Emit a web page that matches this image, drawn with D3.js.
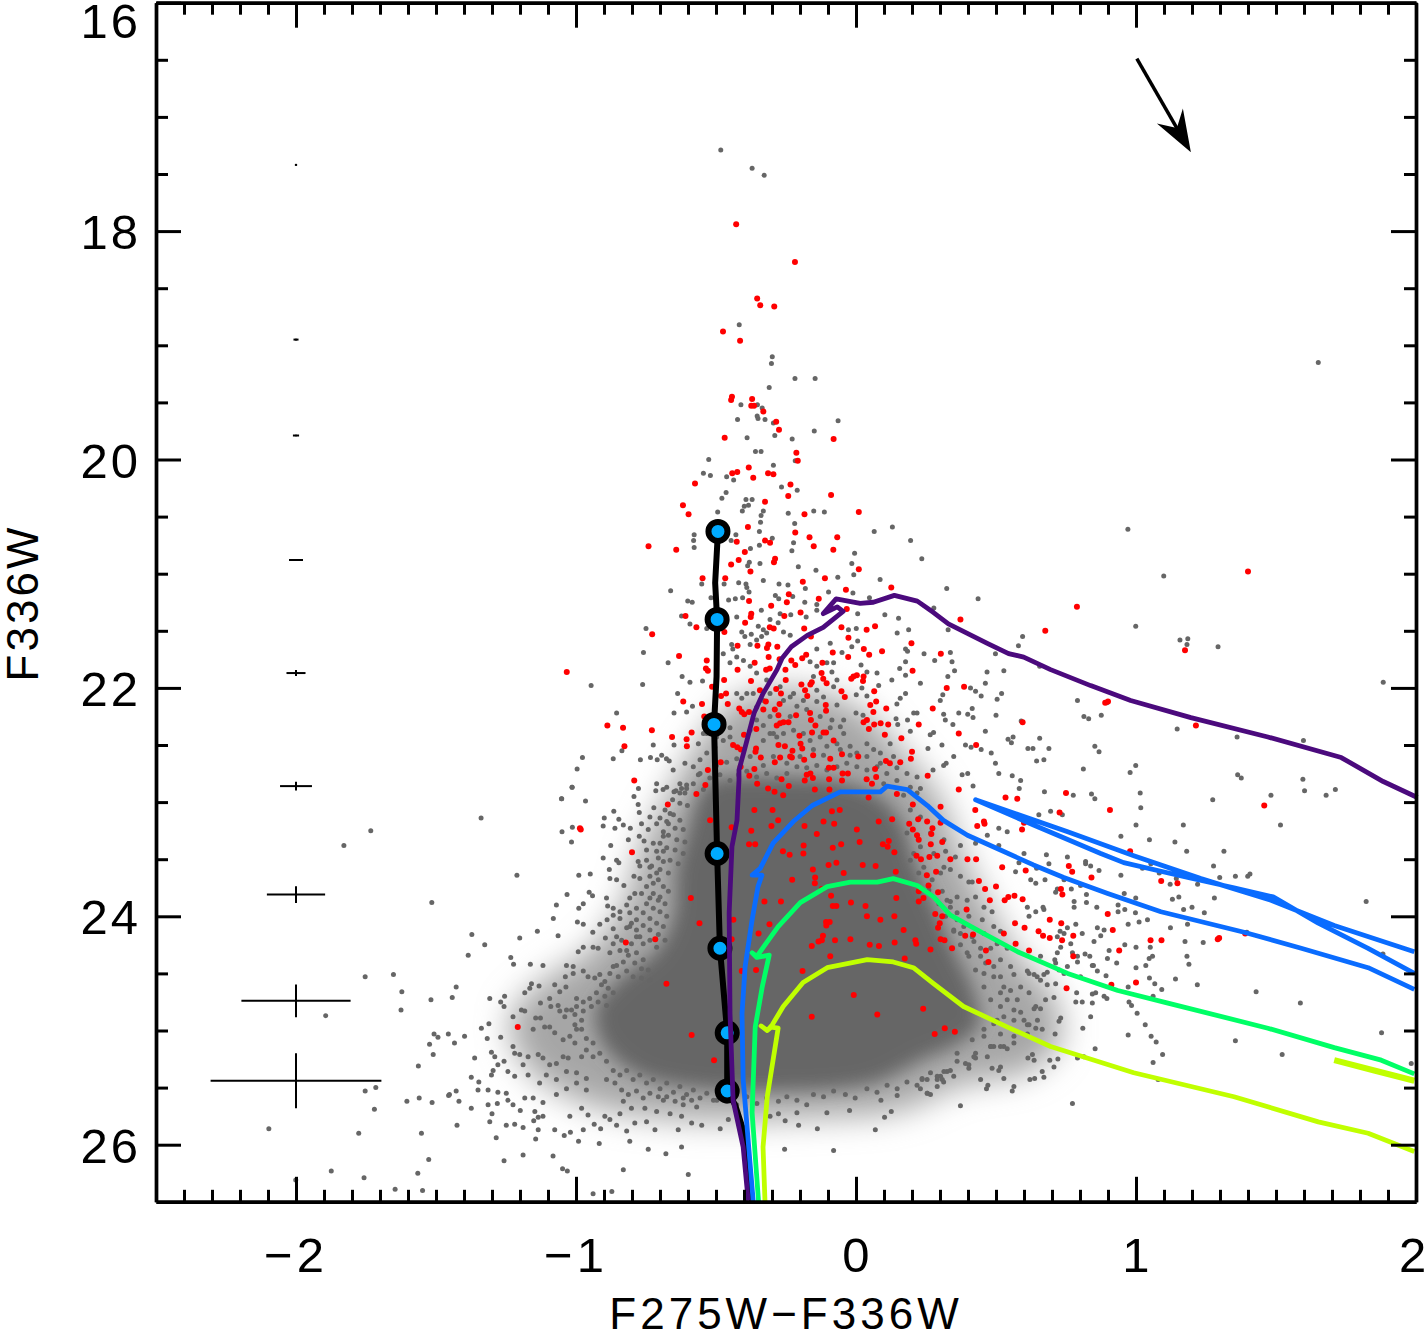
<!DOCTYPE html>
<html><head><meta charset="utf-8">
<script src="https://cdn.jsdelivr.net/npm/d3@7"></script>
<style>html,body{margin:0;padding:0;background:#fff;overflow:hidden}svg{display:block}text{font-family:"Liberation Sans",sans-serif;fill:#000}</style>
</head><body><svg id="c" width="1426" height="1335"></svg>
<script>
const xMajor=[-2,-1,0,1,2], yMajor=[16,18,20,22,24,26];
const xMinor=[-2.4,-2.3,-2.2,-2.1,-1.9,-1.8,-1.7,-1.6,-1.5,-1.4,-1.3,-1.2,-1.1,-0.9,-0.8,-0.7,-0.6,-0.5,-0.4,-0.3,-0.2,-0.1,0.1,0.2,0.3,0.4,0.5,0.6,0.7,0.8,0.9,1.1,1.2,1.3,1.4,1.5,1.6,1.7,1.8,1.9];
const yMinor=[16.5,17,17.5,18.5,19,19.5,20.5,21,21.5,22.5,23,23.5,24.5,25,25.5];
const xTitle="F275W\u2212F336W", yTitle="F336W";

// Dots in the cloud overlap too much to read one by one. These two outlines stand in for them:
// the saturated core, and a softer density halo around it. They are shapes, not star measurements.
const denseCoreOutline=[[-.52,22.82],[-.57,23],[-.6,23.25],[-.64,23.6],[-.65,23.99],[-.71,24.3],[-.84,24.55],[-.93,24.82],[-.9,25.13],[-.78,25.38],[-.57,25.5],[-.26,25.53],[.06,25.46],[.24,25.25],[.36,25.12],[.44,24.95],[.42,24.65],[.35,24.3],[.28,23.9],[.21,23.51],[.16,23.16],[.07,22.93],[-.056,22.82],[-.271,22.78]];
const densityHaloOutline=[[-.432,22.11],[-.557,22.46],[-.664,22.9],[-.772,23.42],[-.825,23.86],[-.951,24.3],[-1.112,24.56],[-1.237,24.91],[-1.165,25.35],[-.951,25.65],[-.629,25.78],[-.199,25.77],[.159,25.7],[.373,25.48],[.623,25.35],[.731,25.08],[.695,24.65],[.588,24.38],[.463,23.86],[.373,23.42],[.302,22.98],[.159,22.54],[.015,22.19],[-.199,22.01]];

const grayTop=[[-.483,17.29],[-.371,17.45],[-.328,17.51],[-.417,18.82],[-.299,19.1],[-.302,19.16],[-.218,19.29],[-.146,19.29],[1.651,19.15],[-.31,19.37],[-.335,19.55],[-.35,19.64],
[-.411,19.52],[-.352,19.52],[-.353,19.62],[-.325,19.65],[-.423,19.65],[-.295,19.68],[-.064,19.66],[-.149,19.75],[-.29,19.79],[-.389,19.81],[-.228,19.82],[-.359,19.93],[-.339,19.93],[-.526,20],[-.217,20.01],[-.295,20.05],[-.545,20.12],[-.52,20.14],[-.462,20.15],[-.437,20.18],[-.266,20.24],[-.21,20.27],[-.464,20.29],[-.479,20.34],[-.393,20.35],[-.371,20.35],[-.384,20.4],[-.399,20.41],[-.406,20.45],[-.331,20.45],[-.494,20.46],[-.242,20.47],[-.151,20.45],[-.113,20.46],[-.339,20.49],[-.341,20.55],[-.219,20.56],[-.345,20.63],[.13,20.59],[.065,20.63],[-.578,20.66],[-.58,20.71],[-.578,20.77],[-.429,20.66],[-.299,20.69],[-.446,20.71],[-.223,20.73],[-.345,20.75],[-.377,20.78],[-.229,20.8],[.195,20.71],[-.005,20.82],[.235,20.87],[-.015,20.91],[-.381,20.9],[-.387,20.93],[-.343,20.91],[-.206,20.94],[-.143,20.97],[-.008,21.01],[-.065,21.03],[-.331,21.06],[.086,21.05],[-.551,21.09],[-.419,21.08],[-.471,21.09],[-.393,21.09],[-.275,21.09],[-.243,21.1],[-.181,21.13],[-.39,21.12],[-.382,21.16],[-.662,21.15],[-.098,21.16],[-.011,21.17],[.324,21.13],[.436,21.22],[-.288,21.19],[-.276,21.22],[-.226,21.2],[-.455,21.23],[-.431,21.22],[-.405,21.21],[-.518,21.21],[-.601,21.24],[-.585,21.25],[-.183,21.25],[-.14,21.27],[-.14,21.32],[-.338,21.32],[-.271,21.35],[-.233,21.36],[-.178,21.38],[.006,21.35],[.103,21.36],[.152,21.39],[.048,21.21],[.278,21.3],[-.623,21.37],[-.426,21.38],[-.307,21.4],[-.462,21.41],[-.593,21.44],[-.533,21.48],[-.75,21.48],[-.349,21.46],[-.331,21.49],[-.319,21.52],[-.337,21.55],[-.355,21.58],[-.278,21.43],[-.259,21.51],[-.235,21.54],[-.408,21.51],[-.374,21.53],[-.397,21.55],[-.027,21.49],[.001,21.48],[.188,21.49],[.147,21.52],[.329,21.49],[.595,21.55],[.58,21.63],[.006,21.59],[-.015,21.64],[-.092,21.61],[-.14,21.66],[-.05,21.69],[-.444,21.62],[-.378,21.62],[-.44,21.66],[-.759,21.69],[-.671,21.78],[.177,21.66],[.184,21.68],[.177,21.77],[.243,21.7],[.281,21.76],[.337,21.69],[.343,21.77],[.498,21.7],[.656,21.81],[-.164,21.77],[-.14,21.81],[-.104,21.78],[-.08,21.78],[-.45,21.78],[-.426,21.73],[-.402,21.76],[-.378,21.81],[-.474,21.7],[.018,21.8],[.039,21.86],[.075,21.87],[.156,21.83],[.352,21.85],[.328,21.9],[.468,21.86],[.528,21.85],[.462,21.96],[.177,21.89],[.128,21.93],[.23,21.96],[-.621,21.9],[-.593,21.95],[-.762,21.97],[-.946,21.98],[-.548,21.94],[-.086,21.86],[-.068,21.93],[-.08,21.99],[-.152,21.9],[-.14,22.02],[-.116,22.08],[.081,21.98],[.021,22],[.001,22.06],[.039,22.07],[.177,22.05],[.158,22.09],[.146,22.14],[.409,22],[.427,22.03],[.447,22.07],[.52,22.05],[.504,22.1],[.31,22.06],[.301,22.11],[-.637,22.05],[-.65,22.22],[-.855,22.22],[-.584,22.16],[-.605,22.21],[-.426,22.05],[-.408,22.09],[-.39,22.05],[-.235,22.08],[-.188,22.11],[-.14,22.12],[-.068,22.15],[0,22.22],[.025,22.24],[.143,22.27],[.218,22.22],[.206,22.22],[.313,22.23],[.319,22.28],[.346,22.32],[.367,22.22],[.399,22.23],[.415,22.18],[.418,22.26],[.5,22.24],[.184,22.28],[.149,22.32],[.59,22.29],[.265,22.41],[.277,22.39],[.194,22.38],[.307,22.5],[.462,22.38],[.543,22.45],[.561,22.43],[.555,22.48],[.656,22.44],[.391,22.5],[.411,22.52],[.447,22.54],[.483,22.57],[.498,22.66],[.614,22.53],[.632,22.53],[.257,22.53],[.349,22.6],[.322,22.66],[.313,22.68],[.51,22.75],[.558,22.77],[.588,22.81],[.583,22.88],[.645,22.64],[.671,22.63],[.689,22.53],[.673,22.91],[.275,22.72],[.23,22.88],[.379,22.76],[.399,22.75],[.418,22.86],[-.724,22.5],[-.65,22.5],[-.836,22.55],[-.977,22.61],[-.867,22.62],[-.77,22.63],[-.734,22.61],[-.996,22.71],[-1.014,22.87],[-1.051,22.97],[-.694,22.59],[-.677,22.62],[-.71,22.63],[-.667,22.64],[-.653,22.72],[-.712,22.84],[-.715,22.9],[-.689,22.89],[-.777,22.88],[-.793,22.95],[-.643,22.9],[-.623,22.88],[-.605,22.85],[-.611,22.66],[-.581,22.69],[-.557,22.63],[-.563,22.76],[-.545,22.4],[-.563,22.49],[-.504,22.52],[-.533,22.57],[-.498,22.65],
[-.474,22.28],[-.45,22.35],[-.498,22.43],[-.533,22.4],[-.474,22.46],[-.45,22.43],[-.307,22.4],[-.283,22.43],[-.331,22.46],[-.259,22.4],[-.223,22.37],[-.188,22.4],[-.164,22.46],[-.128,22.43],[-.092,22.35],[-.056,22.34],[-.044,22.4],[-.068,22.49],[-.104,22.51],[-.021,22.51],[.003,22.57],[.039,22.49],[.063,22.54],[.087,22.57],[.122,22.49],[-.319,21.93],[-.271,21.99],[-.223,22.05],[-.355,21.87],[-.307,22.05],[-.367,22.05],[-.331,22.11],[-.259,22.11],[-.211,22.16],[-.176,22.19],[-.128,22.25],[-.086,22.28],[-.044,22.28],[-.235,22.25],[-.307,22.25],[-.355,22.28],[-.378,22.37],[-.331,22.33],[-.295,22.4],[-.355,22.17]];

const grayRight=[[.971,20.61],[1.099,21.02],[.999,21.46],[1.157,21.58],[1.185,21.57],[1.182,21.62],[1.293,21.64],[1.883,21.95],[.896,22.13],[.791,22.11],[.814,22.25],[.831,22.27],[.876,22.24],[.853,22.51],[.868,22.56],[.812,22.71],[.999,22.68],[.979,22.74],[1.015,22.92],[.841,22.93],[.853,22.97],[.776,22.94],[1.147,22.36],[1.361,22.43],[1.598,22.46],[1.363,22.76],[1.376,22.79],[1.596,22.8],[1.602,22.9],[1.679,22.94],[1.712,22.89],[1.482,22.94],[1.274,22.98],[1.017,23.05],[1,23.2],[1.169,23.2],[1.516,23.2],[.946,23.3],[1.048,23.33],[1.139,23.35],[1.181,23.43],[1.314,23.43],[1.277,23.56],[1.299,23.66],[1.355,23.65],[1.399,23.65],[1.407,23.63],[1.22,23.72],[1.144,23.67],[1.122,23.72],[1.053,23.54],[1.023,23.58],[1.083,23.62],[.946,23.64],[1.28,23.84],[1.13,23.85],[1.153,23.83],[.999,23.84],[.958,23.8],[1.2,23.92],[1.17,23.94],[1.244,23.97],[1.822,23.87],[1.123,24.1],[1.184,24.07],[.998,23.97],[1.041,24.03],[1.011,24.05],[.972,24.07],[.936,23.9],[.96,23.94],[.936,23.96],[.862,24.1],[.886,24.12],[.874,24.17],[.85,24.22],[1.175,24.22],[1.24,24.23],[1.396,24.14],[1,24.27],[.96,24.25],[.904,24.3],[.898,24.37],[1.051,24.27],[1.182,24.35],[1.189,24.42],[1.047,24.37],[1.059,24.35],[1.035,24.43],[1,24.45],[.931,24.41],[.844,24.43],[1.048,24.54],[1.067,24.59],[1.092,24.64],[1.141,24.55],[1.219,24.6],[.972,24.62],[1.061,24.7],[1.882,24.33],[1.429,24.66],[1.587,24.76],[.975,24.75],[.984,24.78],[1.004,24.85],[1.033,24.95],[.972,25.04],[1.054,25.05],[1.072,25.1],[1.095,25.21],[1.061,25.28],[1.355,25.09],[1.522,25.21],[1.877,25.02],[1.983,25.29],[.81,24.98],[.854,25.16],[.814,25.23],[.791,25.24],[1.079,25.43],[.773,25.64],[.373,25.66],[.255,25.55],[.838,24.88],[.844,24.76],[.785,24.75],[.808,24.75],[.856,24.67],[.844,24.68],[.788,24.67],[.893,24.52],[.862,24.48],[.886,24.7],[.896,24.72],
[.695,23.08],[.737,23.11],[.653,23.11],[.54,23.26],[.51,23.23],[.469,23.29],[.427,23.36],[.51,23.38],[.6,23.45],[.68,23.46],[.755,23.48],[.82,23.52],[.838,23.56],[.868,23.6],[.82,23.54],[.689,23.54],[.645,23.58],[.582,23.53],[.57,23.61],[.624,23.68],[.642,23.71],[.675,23.68],[.743,23.68],[.802,23.73],[.769,23.76],[.823,23.81],[.779,23.87],[.823,23.88],[.86,23.92],[.779,23.92],[.671,23.94],[.642,23.96],[.612,23.92],[.618,24],[.719,23.76],[.713,23.79],[.668,23.92],[.785,24.07],[.808,24.15],[.755,24.1],[.729,24.13],[.719,24.18],[.731,24.27],[.719,24.32],[.743,24.15],[.767,24.24],[.773,24.32],[.791,24.35],[.818,24.33],[.835,24.35],[.848,24.43],[.791,24.4],[.71,24.38],[.713,24.41],[.659,24.35],[.683,24.49],[.755,24.44],[.802,24.53],[.743,24.5],[.725,24.47],[.671,24.51],[.713,24.59],[.683,24.6],[.647,24.53],[.618,24.5],[.707,24.71],[.677,24.73],[.642,24.79],[.659,24.81],[.731,24.89],[.725,24.92],[.642,24.98],[.665,24.99],[.711,25.03],[.618,24.95],[.63,25.21],[.692,25.26],[.721,25.25],[.636,25.26],[.614,25.24],[.707,25.32],[.665,25.36],[.621,25.43],[.638,25.42],[.671,25.41],[.466,25.51],[.471,25.48],[.564,25.49],[.558,25.53],[.528,25.42],[.51,25.35],[.486,25.33],[.445,25.43],[.403,25.33],[.427,25.24],[.516,25.32],[.481,25.14],[.54,25.16],[.564,25.11],[.492,25.14],
[.373,23.38],[.355,23.48],[.314,23.57],[.337,23.59],[.373,23.65],[.403,23.7],[.32,23.43],[.302,23.62],[.415,23.7],[.427,23.83],[.361,23.83],[.337,23.92],[.397,23.86],[.457,23.92],[.486,23.96],[.451,24.03],[.403,24],[.361,24.03],[.325,23.86],[.492,24.09],[.516,24.13],[.457,24.15],[.421,24.22],[.504,24.24],[.54,24.28],[.481,24.28],[.373,24.15],[.349,24.12],[.445,24.35],[.397,24.32],[.516,24.38],[.552,24.44],[.492,24.44],[.457,24.5],[.516,24.53],[.564,24.51],[.612,24.48],[.636,24.51],[.659,24.56],[.588,24.62],[.552,24.65],[.618,24.67],[.576,24.73],[.516,24.67],[.516,24.79],[.588,24.84],[.528,24.88],[.636,24.81],[.648,24.91],[.564,24.91],[.492,24.94],[.612,24.95],[.516,25.03],[.457,25.05],[.481,25.14],[.421,25.23],[.361,25.2],[.391,25.29],[.337,25.35],[.308,25.43],[.236,25.43],[.29,25.4],[.427,25.2],[.528,25.14],[.194,23.07],[.23,23.13],[.266,23.27],[.314,23.33],[.23,23.39],[.278,23.45],[.182,23.27]];

const grayLeft=[[-1.014,22.87],[-1.052,22.97],[-.966,22.99],[-1.339,23.14],[-.865,23.08],[-.899,23.14],[-.903,23.21],[-.847,23.15],[-.831,23.2],[-.806,23.23],[-.861,23.23],[-1.05,23.26],[-1.013,23.22],[-1.016,23.35],[-.876,23.38],[-.813,23.33],[-.774,23.3],[-.757,23.34],[-.778,23.02],[-.774,23.09],[-.736,23.13],[-.722,23.05],[-.766,23.19],[-.742,23.24],[-.712,23.19],[-.688,23.26],[-.67,23.19],[-.664,23.1],[-.688,23.3],[-.724,23.36],[-.748,23.42],[-.712,23.43],[-.688,23.43],[-.778,23.52],[-.855,23.51],[-.847,23.53],[-.903,23.49],[-.881,23.59],[-.879,23.67],[-.855,23.68],[-.829,23.73],[-.793,23.65],[-.772,23.56],[-.748,23.51],[-.73,23.56],[-.712,23.62],[-.772,23.67],[-.748,23.74],[-.724,23.71],[-.766,23.8],[-.736,23.84],[-.7,23.83],[-.79,23.8],[-.808,23.84],[-.891,23.84],[-.819,23.9],[-1.211,23.64],[-.99,23.64],[-.949,23.63],[-.953,23.79],[-.941,23.82],[-1.032,23.81],[-1.07,23.9],[-.99,23.93],[-.974,23.89],[-.887,23.91],[-.867,23.93],[-.843,23.96],[-.867,23.99],[-.843,24.02],[-1.081,24.02],[-.995,24.05],[-.974,24.07],[-.915,24.07],[-.889,24.03],[-.867,24.11],[-1.138,24.13],[-1.064,24.17],[-.94,24.14],[-.895,24.19],[-.867,24.24],[-.843,24.3],[-.879,24.32],[-1.372,24.16],[-1.326,24.25],[-1.201,24.19],[-1.385,24.34],[-1.233,24.36],[-1.223,24.42],[-1.163,24.42],[-1.118,24.43],[-.992,24.31],[-.974,24.27],[-.939,24.27],[-.921,24.28],[-1.034,24.43],[-1.01,24.44],[-1.01,24.5],[-1.038,24.53],[-.974,24.48],[-.957,24.53],[-.933,24.54],[-.915,24.51],[-.897,24.57],[-.867,24.44],[-.808,24.09],[-.784,24.12],[-.772,24.18],[-.802,24.24],[-.819,24.3],[-.784,24.32],[-.76,24.38],[-1.428,24.62],[-1.442,24.71],[-1.308,24.72],[-1.269,24.75],[-1.255,24.7],[-1.257,24.79],[-1.159,24.59],[-1.132,24.61],[-1.165,24.63],[-1.183,24.67],[-1.076,24.6],[-1.036,24.62],[-1.058,24.66],[-1.094,24.72],[-1.127,24.76],[-1.064,24.78],[-.998,24.72],[-1.016,24.82],[-1.034,24.82],[-1.058,24.83],[-1.09,24.79],[-1.195,24.82],[-1.183,24.83],[-1.144,24.89],[-1.127,24.89],[-1.04,24.88],[-1.225,24.88],[-1.311,24.94],[-1.338,24.98],[-1.398,25.05],[-1.434,25.11],[-1.269,25.06],[-1.317,25.07],[-1.153,24.99],[-1.112,24.97],[-1.094,24.97],[-1.076,25.02],[-1.022,25.05],[-1.046,25.08],[-.998,24.99],[-1.004,25.11],[-1.225,25.14],[-1.302,25.19],[-1.29,25.23],[-1.362,25.24],[-1.279,25.3],[-1.257,25.27],[-1.296,25.35],[-1.302,25.39],[-1.374,25.41],[-1.347,25.45],[-1.219,25.2],[-1.201,25.21],[-1.171,25.23],[-1.135,25.21],[-1.118,25.24],[-1.046,25.23],[-1.094,25.3],[-1.07,25.29],[-1.028,25.24],[-.98,25.23],[-1.243,25.36],[-1.219,25.4],[-1.189,25.3],[-1.171,25.39],[-1.13,25.46],[-1.106,25.39],[-1.07,25.43],[-1.034,25.36],[-.998,25.37],[-.963,25.42],[-.998,25.46],[-1.034,25.51],[-.963,25.52],[-1.07,25.56],[-1.118,25.63],[-1.153,25.59],[-1.183,25.59],[-1.249,25.55],[-1.279,25.54],[-1.314,25.52],[-1.35,25.52],[-1.428,25.53],[-1.418,25.62],[-1.452,25.56],[-1.314,25.65],[-1.281,25.64],[-1.243,25.61],[-1.225,25.65],[-1.199,25.7],[-1.374,25.68],[-1.3,25.73],[-1.308,25.8],[-1.249,25.83],[-1.219,25.82],[-1.189,25.85],[-1.147,25.71],[-1.135,25.76],[-1.118,25.75],[-1.151,25.79],[-1.425,25.83],[-1.285,25.94],[-1.144,25.95],[-1.135,25.87],[-1.076,25.87],[-1.042,25.92],[-1.02,25.89],[-.991,25.97],[-.974,25.87],[-.935,25.82],[-.912,25.86],[-.98,25.68],[-1.022,25.75],[-.957,25.74],[-.897,25.75],[-.879,25.78],[-.855,25.83],[-.819,25.88],[-.917,25.99],[-.808,25.97],[-.742,26.04],[-.679,26.08],[-.623,26.02],[-1.189,26.09],[-1.257,26.14],[-1.082,26.1],[-1.048,26.21],[-1.031,26.23],[-.831,26.22],[-.599,26.26],[-.939,26.43],[-.872,26.41],[-.255,26.04],[-.08,26.05],[-.138,25.86],[-.205,25.83],[.069,25.87],[.102,25.76],[.126,25.71],[.089,25.61],[-.023,25.7],[-.104,25.72],[-.211,25.72],[-.277,25.73],[-.253,25.79],[-.307,25.75],[-.635,25.87],[-.718,25.87],[-.485,25.86],[-.456,25.78],[-.551,25.83],[-.587,25.81],[-.623,25.75],[-.664,25.73],[-.712,25.71],[-.748,25.8],[-.79,25.81],[-.831,25.62],[-.802,25.68],[-.843,25.73],[-.754,25.68],[-.688,25.61],[-.617,25.65],[-.569,25.67],[-.497,25.61],[.254,25.55],[.147,25.57],[.302,25.4],[.313,25.45],[.236,25.42],
[-1.733,23.25],[-1.829,23.38],[-1.515,23.88],[-1.753,24.53],[-1.652,24.51],[-1.622,24.66],[-1.518,24.73],[-1.625,24.82],[-1.894,24.87],[-1.507,25.03],[-1.493,25.06],[-1.523,25.12],[-1.51,25.21],[-1.456,25.03],[-1.563,25.31],[-1.753,25.53],[-1.715,25.5],[-1.604,25.62],[-1.56,25.59],[-1.514,25.63],[-1.455,25.57],[-1.72,25.69],[-2.097,25.86],[-1.776,25.9],[-1.552,25.9],[-1.526,26.13],[-1.565,26.25],[-1.874,26.23],[-1.757,26.29],[-2.001,26.31],[-1.646,26.39],[-1.548,26.4]];

const grayEdge=[[-.676,22.87],[-.65,22.91],[-.629,22.84],[-.611,22.92],[-.655,22.98],[-.629,23.01],[-.602,23.03],[-.682,23.07],[-.652,23.11],[-.629,23.16],[-.676,23.17],[-.7,23.14],[-.646,23.23],[-.617,23.24],[-.67,23.29],[-.64,23.33],[-.611,23.35],[-.7,23.36],[-.676,23.4],[-.646,23.42],[-.617,23.45],[-.706,23.49],[-.688,23.52],[-.664,23.51],[-.635,23.54],[-.736,23.57],[-.7,23.59],[-.67,23.62],[-.736,23.65],[-.706,23.68],[-.688,23.74],[-.67,23.78],[-.724,23.8],[-.706,23.86],[-.682,23.89],[-.748,23.89],[-.724,23.93],[-.7,23.96],[-.676,24],[-.784,23.93],[-.76,23.97],[-.736,24.02],[-.712,24.06],[-.688,24.09],[-.808,23.97],[-.784,24.03],[-.76,24.08],[-.736,24.12],[-.706,24.16],[-.682,24.21],[-.802,24.06],[-.819,24.1],[-.784,24.18],[-.76,24.24],[-.736,24.21],[-.712,24.27],[-.855,24.18],[-.837,24.21],[-.813,24.34],[-.79,24.41],[-.766,24.46],[-.742,24.47],[-.831,24.4],[-.855,24.43],[-.879,24.5],[-.849,24.53],[-.819,24.48],[-.796,24.53],[-.766,24.54],[-.736,24.56],[-.909,24.6],[-.885,24.63],[-.927,24.67],[-.897,24.7],[-.867,24.67],[-.951,24.72],[-.921,24.75],[-.891,24.78],[-.974,24.75],[-.945,24.79],[-.998,24.79],[-.974,24.83],[-1.004,24.86],[-.98,24.91],[-1.004,24.95],[-.98,24.99],[-.963,25.07],[-.939,25.11],[-.963,25.17],[-.939,25.23],[-.915,25.2],[-.891,25.27],[-.867,25.35],[-.843,25.39],[-.819,25.35],[-.796,25.43],[-.772,25.39],[-.748,25.46],[-.724,25.43],[-.7,25.51],[-.676,25.46],[-.652,25.54],[-.629,25.49],[-.605,25.56],[-.581,25.52],[-.557,25.59],[-.533,25.55],[-.509,25.61],[-.891,25.43],[-.861,25.46],[-.837,25.52],[-.813,25.56],[-.784,25.53],[-.76,25.59],[-.736,25.55],[-.706,25.58],[-.676,25.58],[-.646,25.62],[-.617,25.59],[-.587,25.61],[-.462,25.62],[-.426,25.65],[-.39,25.58],[-.354,25.64],[-.319,25.59],[-.277,25.62],[-.247,25.58],[-.211,25.61],[-.176,25.65],[-.152,25.56],[-.116,25.58],[-.08,25.53],[-.038,25.56],[-.003,25.59],[.039,25.51],[.075,25.54],[.111,25.48],[.147,25.51],[.182,25.45],[.218,25.48],[.266,25.37],[.29,25.43],[.325,25.36],
[.206,23.45],[.242,23.57],[.272,23.68],[.308,23.78],[.337,23.87],[.361,23.97],[.385,24.09],[.415,24.18],[.445,24.28],[.463,24.41],[.492,24.53],[.528,24.62],[.54,24.73],[.564,24.82],[.6,24.91],[.612,25.03],[.564,25.05],[.516,25.14],[.469,25.23],[.403,25.3],[.349,25.4],[.29,25.49],[.23,25.51],[.266,25.56],[.194,23.51],[.224,23.62],[.26,23.77],[.296,23.89],[.32,24],[.349,24.13],[.373,24.25],[.403,24.35],[.427,24.47],[.457,24.62],[.481,24.73],[.504,24.91],[.457,24.99],[.415,25.08],[.361,25.27],[.314,25.36],[.254,25.43],
[-.557,22.75],[-.522,22.79],[-.486,22.76],[-.45,22.81],[-.42,22.76],[-.39,22.73],[-.355,22.78],[-.319,22.75],[-.283,22.79],[-.247,22.75],[-.211,22.69],[-.176,22.7],[-.14,22.68],[-.104,22.72],[-.068,22.69],[-.033,22.66],[.003,22.69],[.039,22.72],[.075,22.69],[.11,22.75],[.146,22.7],[.182,22.75],[.218,22.78],[-.581,22.84],[-.605,22.88],[-.629,22.92],[-.545,22.89],[-.498,22.68],[-.462,22.65],[-.426,22.62],[-.378,22.6],[-.331,22.68],[-.295,22.6],[-.247,22.66],[-.2,22.6],[-.152,22.54],[-.116,22.59],[-.056,22.54],[-.021,22.59],[.039,22.6],[.087,22.66],[.134,22.6],[.099,22.84],[.146,22.81],[.194,22.87],[.17,22.94],[.218,22.92]];

const redStars=[[-.428,17.94],[-.218,18.27],[-.353,18.59],[-.342,18.65],[-.292,18.66],[-.475,18.88],[-.414,18.96],[-.443,19.45],[-.371,19.47],[-.364,19.53],[1.4,20.98],[.789,21.29],[1.175,21.67],[1.458,23.03],[.89,22.13],[.9,22.12],[1.214,22.33],[-.986,23.23],[1.297,24.19],
[-.446,19.48],[-.374,19.53],[-.331,19.58],[-.285,19.67],[-.275,19.74],[-.469,19.81],[-.08,19.82],[-.213,19.94],[-.208,20.01],[-.383,20.07],[-.424,20.11],[-.442,20.12],[-.314,20.12],[-.295,20.13],[-.367,20.16],[-.575,20.21],[-.234,20.22],[-.089,20.31],[-.242,20.32],[-.325,20.37],[-.618,20.4],[-.598,20.48],[-.184,20.48],[.01,20.46],[-.386,20.59],[-.217,20.64],[-.166,20.68],[-.067,20.68],[-.325,20.71],[-.307,20.73],[-.426,20.72],[-.151,20.76],[-.741,20.76],[-.642,20.79],[-.081,20.79],[-.397,20.81],[-.419,20.88],[-.289,20.87],[-.293,20.9],[-.446,20.92],[-.377,20.98],[.01,20.96],[-.548,21.04],[-.467,21.04],[-.111,21.04],[-.19,21.07],[-.036,21.14],[.126,21.12],[-.24,21.18],[-.133,21.22],[-.382,21.24],[-.247,21.25],[-.303,21.28],[-.033,21.31],[-.374,21.35],[-.198,21.34],[-.376,21.38],[-.609,21.37],[-.256,21.37],[.373,21.4],[-.396,21.43],[-.57,21.47],[-.47,21.51],[-.308,21.47],[-.294,21.48],[-.185,21.48],[-.052,21.47],[.038,21.49],[.068,21.46],[.676,21.5],[-.728,21.53],[-.161,21.55],[-.027,21.56],[.198,21.61],[-.313,21.62],[-.423,21.63],[-.352,21.63],[-.281,21.64],[-.318,21.65],[.028,21.66],[-.083,21.69],[.093,21.68],[.047,21.71],[-.028,21.73],[.303,21.7],[-.632,21.72],[-.178,21.71],[-.312,21.73],[-.231,21.76],[-.273,21.75],[-.192,21.74],[-.533,21.76],[-.362,21.78],[-.217,21.8],[-.12,21.78],[-.536,21.83],[-.529,21.85],[-.423,21.84],[-.321,21.84],[-.308,21.83],[-.252,21.84],[.202,21.85],[-1.033,21.86],[-.123,21.87],[-.117,21.92],[-.105,21.96],[-.471,21.93],[-.375,21.94],[-.251,21.93],[.003,21.89],[.027,21.9],[-.009,21.9],[-.017,21.92],[.025,21.94],[-.158,21.95],[-.163,21.97],[-.195,21.97],[-.514,21.99],[.324,22],[.386,21.99],[-.343,22.02],[-.285,22.01],[-.182,22.02],[.065,22.03],[-.052,22.03],[-.268,22.05],[-.174,22.07],[-.04,22.08],[-.464,22.05],[-.482,22.07],[-.617,22.12],[-.55,22.14],[.072,22.12],[-.458,22.14],[-.322,22.12],[-.273,22.14],[.051,22.15],[-.108,22.15],[.108,22.18],[.274,22.18],[-.417,22.18],[-.408,22.21],[-.331,22.19],[-.29,22.19],[-.107,22.2],[.062,22.21],[-.164,22.22],[-.382,22.21],[-.399,22.23],[-.277,22.24],[-.214,22.24],[-.542,22.25],[-.161,22.28],[.039,22.28],[.027,22.3],[.088,22.31],[.115,22.32],[.065,22.32],[.224,22.32],[.595,22.3],[-.259,22.3],[-.241,22.3],[-.271,22.31],[-.283,22.33],[-.888,22.33],[-.832,22.35],[-.729,22.37],[-.145,22.33],[-.356,22.36],[.046,22.36],[-.157,22.39],[-.116,22.39],[-.107,22.39],[-.587,22.39],[-.4,22.41],[.103,22.41],[.367,22.4],[-.657,22.43],[-.605,22.45],[-.202,22.42],[.162,22.44],[-.08,22.46],[-.604,22.51],[-.827,22.51],[-.439,22.5],[-.424,22.52],[-.357,22.53],[-.277,22.5],[-.254,22.51],[-.198,22.49],[.429,22.5],[-.192,22.53],[-.411,22.54],[-.359,22.56],[-.227,22.55],[.2,22.56],[-.05,22.58],[-.153,22.59],[-.235,22.6],[-.34,22.61],[-.271,22.61],[.196,22.62],[.008,22.6],[-.229,22.61],[-.092,22.62],[-.29,22.65],[-.185,22.63],[.107,22.64],[.121,22.66],[.158,22.65],[-.483,22.65],[-.412,22.69],[-.097,22.7],[-.08,22.7],[-.363,22.71],[.068,22.71],[-.529,22.72],[-.381,22.77],[-.163,22.75],[-.176,22.76],[-.048,22.75],[-.029,22.75],[.256,22.77],[.072,22.78],[-.792,22.81],[-.266,22.8],[-.154,22.79],[-.183,22.81],[-.096,22.8],[-.05,22.81],[.038,22.8],[-.353,22.84],[-.24,22.86],[-.538,22.85],[.057,22.84],[-.314,22.88],[.367,22.89],[-.147,22.89],[-.095,22.89],[-.291,22.91],[-.57,22.93],[-.26,22.94],[.146,22.93],[.045,22.96],[.534,22.96],[.576,22.97],
[-.672,23.02],[-.983,23.24],[-.8,23.44],[-.521,23.16],[-.444,23.22],[-.363,23.07],[-.298,23.07],[-.278,23.16],[-.374,23.25],[-.302,23.21],[-.382,23.37],[-.36,23.37],[-.261,23.43],[-.237,23.46],[-.187,23.38],[-.188,23.45],[-.184,23.21],[-.14,23.28],[-.116,23.17],[-.086,23.08],[-.058,23.07],[-.078,23.19],[.003,23.24],[.013,23.35],[-.083,23.4],[-.053,23.37],[.081,23.17],[.129,23.15],[.203,23.02],[.222,23.15],[.19,23.19],[.254,23.17],[.302,23.04],[.302,23.18],[.203,23.24],[.218,23.29],[.224,23.33],[.273,23.23],[.269,23.28],[.267,23.37],[.308,23.35],[.117,23.34],[.096,23.37],[.113,23.39],[.137,23.44],[.216,23.47],[.232,23.5],[.262,23.48],[.29,23.47],[-.098,23.55],[-.07,23.53],[-.154,23.59],[-.146,23.66],[-.147,23.71],[-.228,23.68],[-.044,23.62],[.024,23.55],[.07,23.56],[.142,23.61],[.286,23.61],[.253,23.64],[.259,23.73],[.224,23.78],[.293,23.79],[.241,23.84],[.224,23.87],[.144,23.84],[-.59,23.84],[-.327,23.87],[-.268,23.87],[-.122,23.76],[-.089,23.82],[-.018,23.88],[-.083,23.91],[-.07,23.91],[.034,23.91],[.039,24],[.087,24.03],[.137,24],[.283,23.98],[.308,24],[.299,24.06],[.293,24.1],[.17,24.12],[-.559,24.06],[-.438,24.03],[-.309,24.07],[-.094,24.05],[-.107,24.05],[-.106,24.08],[-.348,24.15],[-.717,24.2],[-.822,24.23],[-.444,24.2],[-.118,24.17],[-.158,24.26],[-.134,24.22],[-.122,24.21],[-.075,24.21],[-.02,24.2],[.049,24.25],[.082,24.26],[.138,24.23],[.212,24.21],[.215,24.24],[.302,24.2],[.316,24.21],[.266,24.29],[-.092,24.35],[.174,24.37],[-.357,24.47],[-.408,24.48],[-.191,24.48],[-.677,24.59],[-.008,24.69],[.24,24.81],[-.158,24.88],[.076,24.86],[.317,24.98],[.281,25.03],[-1.208,24.97],[-.587,25.04],[-.507,25.26],
[.75,22.92],[.907,23.07],[.979,23.43],[.426,23.07],[.457,23.17],[.459,23.19],[.433,23.21],[.6,23.18],[.593,23.24],[.727,23.09],[.337,23.5],[.398,23.5],[.429,23.5],[.522,23.57],[.606,23.6],[.76,23.56],[.772,23.61],[.841,23.66],[1.09,23.69],[1.148,23.71],[.439,23.69],[.461,23.76],[.5,23.74],[.732,23.76],[.737,23.81],[.566,23.82],[.544,23.83],[.531,23.86],[.595,23.85],[.478,23.86],[.395,23.94],[.899,23.98],[.568,24.06],[.602,24.1],[.692,24.03],[.733,24.06],[.652,24.13],[.668,24.17],[.692,24.19],[.736,24.21],[.776,24.17],[.528,24.15],[.917,24.12],[1.052,24.21],[1.091,24.21],[1.292,24.2],[1.39,24.15],[.418,24.16],[.39,24.17],[.57,24.24],[.618,24.3],[.464,24.3],[.343,24.28],[.94,24.3],[.776,24.35],[.473,24.4],[.912,24.6],[1,24.58],[.752,24.63],[.353,25.01]];

const ridgeLine=[[-.493,20.63],[-.503,21.08],[-.496,21.4],[-.498,21.9],[-.507,22.32],[-.496,23.45],[-.486,24.28],[-.46,25.02],[-.46,25.53],[-.432,25.65],[-.403,25.87],[-.371,26.49]];
const ridgePoints=[[-.493,20.63],[-.496,21.4],[-.507,22.32],[-.496,23.45],[-.486,24.28],[-.46,25.02],[-.46,25.53]];
const trackPurple=[[-.385,26.49],[-.403,26.02],[-.439,25.61],[-.45,24.85],[-.453,23.97],[-.443,23.39],[-.425,23.16],[-.418,22.81],[-.418,22.72],[-.396,22.52],[-.364,22.22],[-.332,22.05],[-.282,21.84],[-.264,21.74],[-.231,21.64],[-.174,21.54],[-.117,21.47],[-.046,21.33],[-.067,21.29],[-.117,21.35],[-.071,21.22],[.015,21.26],[.062,21.25],[.137,21.19],[.219,21.24],[.277,21.34],[.33,21.44],[.469,21.61],[.545,21.7],[.599,21.73],[.695,21.84],[.838,21.98],[.981,22.11],[1.196,22.26],[1.471,22.43],[1.733,22.61],[1.883,22.82],[2.005,22.96]];
const trackBlue=[[-.367,26.5],[-.403,25.43],[-.407,24.85],[-.396,24.44],[-.371,24.03],[-.35,23.74],[-.336,23.64],[-.371,23.64],[-.342,23.58],[-.296,23.36],[-.224,23.17],[-.156,23.03],[-.056,22.91],[.087,22.91],[.111,22.86],[.183,22.89],[.255,23.03],[.312,23.16],[.398,23.29],[.516,23.42],[.634,23.55],[.742,23.66],[.899,23.8],[1.089,23.96],[1.386,24.14],[1.59,24.28],[1.829,24.45],[1.994,24.64]];
const trackBlueLoop=[[1.994,24.31],[1.708,24.08],[1.482,23.86],[1.232,23.67],[.992,23.47],[.756,23.26],[.427,22.98],[.634,23.2],[.874,23.45],[.956,23.53],[1.185,23.66],[1.35,23.75],[1.49,23.83],[1.651,24.06],[1.829,24.28],[1.994,24.5]];
const trackGreen=[[-.348,26.5],[-.371,25.72],[-.36,24.97],[-.335,24.62],[-.31,24.34],[-.354,24.36],[-.371,24.32],[-.354,24.35],[-.325,24.25],[-.278,24.09],[-.199,23.88],[-.103,23.74],[-.02,23.7],[.076,23.7],[.133,23.67],[.219,23.73],[.277,23.83],[.337,23.99],[.455,24.15],[.577,24.31],[.756,24.5],[.935,24.65],[1.114,24.76],[1.471,24.98],[1.708,25.15],[1.876,25.26],[1.994,25.38]];
const trackLime=[[-.325,26.5],[-.332,26.02],[-.317,25.58],[-.278,24.98],[-.303,24.97],[-.317,25],[-.339,24.96],[-.317,25],[-.299,24.95],[-.26,24.79],[-.189,24.58],[-.103,24.45],[.04,24.38],[.133,24.4],[.205,24.45],[.277,24.59],[.384,24.79],[.541,24.97],[.695,25.14],[.992,25.37],[1.35,25.58],[1.651,25.8],[1.829,25.9],[1.994,26.06]];
const trackLimeEnd=[[1.708,25.26],[1.851,25.35],[1.994,25.44]];
const errY=[17.42,18.95,19.79,20.88,21.87,22.86,23.81,24.74,25.44];
const errX=[.004,.009,.011,.025,.034,.057,.104,.195,.305];
const errV=[.005,.007,.007,.009,.026,.039,.074,.143,.241];
const errAt=-2;
const reddening=[[1.003,16.49],[1.196,17.31]];

const svg=d3.select("#c");
const x=d3.scaleLinear().domain([-2.5,2]).range([156,1416]);
const y=d3.scaleLinear().domain([16,26.5]).range([2.7,1201.8]);
const line=d3.line().x(d=>x(d[0])).y(d=>y(d[1]));
const closed=d3.line().curve(d3.curveCatmullRomClosed.alpha(.5)).x(d=>x(d[0])).y(d=>y(d[1]));
const GRAY="#666";
const defs=svg.append("defs");
defs.append("filter").attr("id","softHalo").attr("x","-20%").attr("y","-20%").attr("width","140%").attr("height","140%").append("feGaussianBlur").attr("stdDeviation",16);
defs.append("filter").attr("id","softCore").attr("x","-10%").attr("y","-10%").attr("width","120%").attr("height","120%").append("feGaussianBlur").attr("stdDeviation",9);

svg.append("path").attr("d",closed(densityHaloOutline)).attr("fill","#a6a6a6").attr("filter","url(#softHalo)");
svg.append("path").attr("d",closed(denseCoreOutline)).attr("fill",GRAY).attr("filter","url(#softCore)");
svg.append("g").selectAll("circle").data([...grayTop,...grayRight,...grayLeft,...grayEdge]).join("circle")
  .attr("cx",d=>x(d[0])).attr("cy",d=>y(d[1])).attr("r",2.5).attr("fill",GRAY);
svg.append("g").selectAll("circle").data(redStars).join("circle")
  .attr("cx",d=>x(d[0])).attr("cy",d=>y(d[1])).attr("r",3).attr("fill","#ff0000");

const eb=svg.append("g").attr("stroke","#000").attr("stroke-width",2);
errY.forEach((v,i)=>{
  eb.append("line").attr("x1",x(errAt-errX[i])).attr("x2",x(errAt+errX[i])).attr("y1",y(v)).attr("y2",y(v));
  eb.append("line").attr("x1",x(errAt)).attr("x2",x(errAt)).attr("y1",y(v-errV[i])).attr("y2",y(v+errV[i]));
});

svg.append("path").attr("d",line(ridgeLine)).attr("fill","none").attr("stroke","#000").attr("stroke-width",6).attr("stroke-linejoin","round");
svg.append("g").selectAll("circle").data(ridgePoints).join("circle")
  .attr("cx",d=>x(d[0])).attr("cy",d=>y(d[1])).attr("r",9.5).attr("fill","#00aaff").attr("stroke","#000").attr("stroke-width",6);

[[trackPurple,"#4b0a7d",4.8],[trackBlue,"#0a6cff",4.8],[trackBlueLoop,"#0a6cff",4.8],[trackGreen,"#00ff66",4.8],[trackLime,"#c0ff00",4.8],[trackLimeEnd,"#c0ff00",6]].forEach(([d,c,w])=>{
  svg.append("path").attr("d",line(d)).attr("fill","none").attr("stroke",c).attr("stroke-width",w).attr("stroke-linejoin","round");
});

// reddening arrow
const [p0,p1]=reddening.map(d=>[x(d[0]),y(d[1])]);
const a=Math.atan2(p1[1]-p0[1],p1[0]-p0[0]);
const at=(l,s)=>[p1[0]-l*Math.cos(a)-s*Math.sin(a),p1[1]-l*Math.sin(a)+s*Math.cos(a)];
svg.append("line").attr("x1",p0[0]).attr("y1",p0[1]).attr("x2",at(26,0)[0]).attr("y2",at(26,0)[1]).attr("stroke","#000").attr("stroke-width",3.5);
svg.append("path").attr("d",d3.line()([p1,at(42,15),at(28,0),at(42,-15)])+"Z").attr("fill","#000");

// axes: major and minor ticks on all four sides
function axis(gen,tx,ty,vals,len){
  const g=svg.append("g").attr("transform",`translate(${tx},${ty})`).call(gen.tickValues(vals).tickSize(len).tickSizeOuter(0).tickFormat(""));
  g.selectAll("line").attr("stroke","#000").attr("stroke-width",3);
  g.select(".domain").attr("stroke","#000").attr("stroke-width",3.4);
}
axis(d3.axisBottom(x),0,y.range()[1],xMajor,-25); axis(d3.axisBottom(x),0,y.range()[1],xMinor,-12);
axis(d3.axisTop(x),0,y.range()[0],xMajor,-25);    axis(d3.axisTop(x),0,y.range()[0],xMinor,-12);
axis(d3.axisLeft(y),x.range()[0],0,yMajor,-25);   axis(d3.axisLeft(y),x.range()[0],0,yMinor,-12);
axis(d3.axisRight(y),x.range()[1],0,yMajor,-25);  axis(d3.axisRight(y),x.range()[1],0,yMinor,-12);

const FS=49;
svg.append("g").selectAll("text").data(xMajor).join("text")
  .attr("x",d=>Math.min(x(d),1399)).attr("y",1272).attr("text-anchor",d=>d===2?"start":"middle").attr("font-size",FS).attr("letter-spacing",d=>d<0?4:0)
  .text(d=>(d<0?"\u2212":"")+Math.abs(d));
svg.append("g").selectAll("text").data(yMajor).join("text")
  .attr("x",141).attr("y",d=>Math.max(y(d)+18,38)).attr("text-anchor","end").attr("font-size",FS).attr("letter-spacing",3)
  .text(d=>d);
svg.append("text").attr("x",786).attr("y",1329).attr("text-anchor","middle").attr("font-size",44).attr("letter-spacing",4).text(xTitle);
svg.append("text").attr("transform","translate(38,603) rotate(-90)").attr("text-anchor","middle").attr("font-size",44).attr("letter-spacing",3).text(yTitle);
</script></body></html>
